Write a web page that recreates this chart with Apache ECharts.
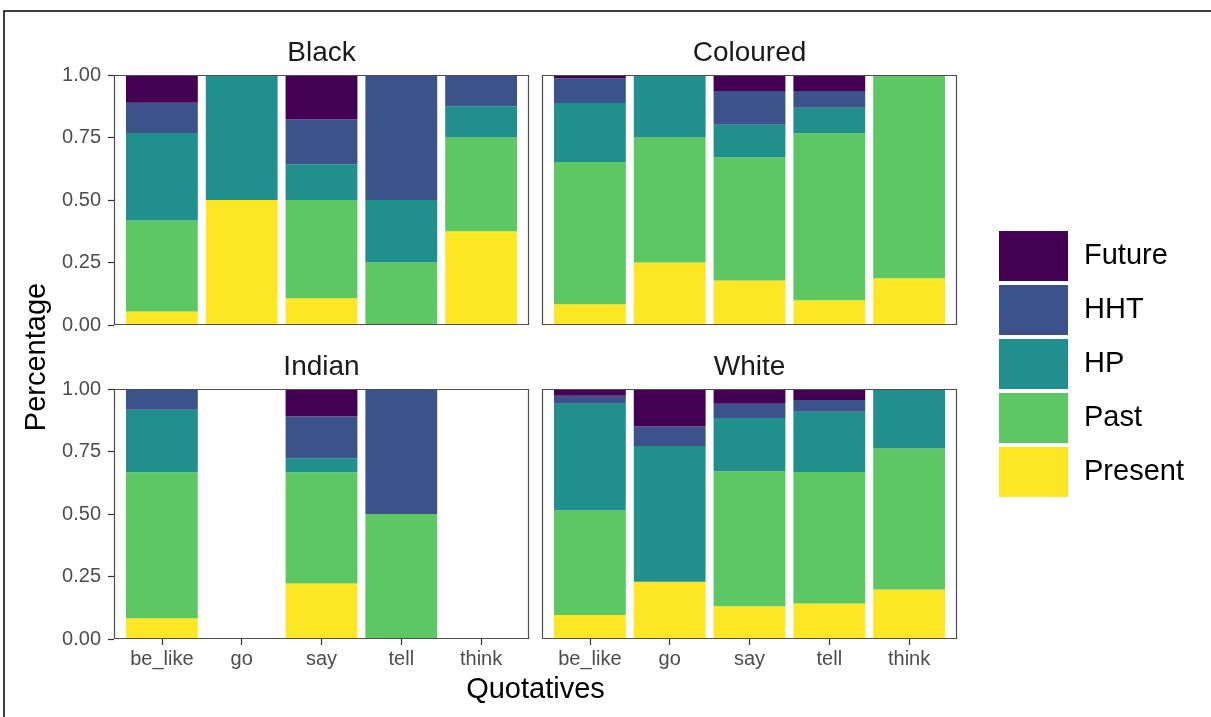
<!DOCTYPE html>
<html>
<head>
<meta charset="utf-8">
<script src="https://cdn.jsdelivr.net/npm/echarts@6/dist/echarts.min.js"></script>
<style>
  html, body { margin: 0; padding: 0; background: #fff; }
  #chart { width: 1211px; height: 717px; }
</style>
</head>
<body>
<div id="chart"></div>
<script>
// Quotative tense proportions by speaker group
const quotatives = ['be_like', 'go', 'say', 'tell', 'think'];
const tenses = ['Present', 'Past', 'HP', 'HHT', 'Future'];   // stacking order, bottom to top
const legendOrder = ['Future', 'HHT', 'HP', 'Past', 'Present'];
const groups = ['Black', 'Coloured', 'Indian', 'White'];

// rows follow `tenses`, columns follow `quotatives`
const black = [
  [0.054, 0.50, 0.107, 0.00, 0.375],  // Present
  [0.364, 0.00, 0.393, 0.25, 0.375],  // Past
  [0.350, 0.50, 0.143, 0.25, 0.125],  // HP
  [0.121, 0.00, 0.179, 0.50, 0.125],  // HHT
  [0.111, 0.00, 0.178, 0.00, 0.000]   // Future
];
const coloured = [
  [0.083, 0.25, 0.178, 0.099, 0.1875],
  [0.569, 0.50, 0.493, 0.668, 0.8125],
  [0.236, 0.25, 0.130, 0.102, 0.000],
  [0.099, 0.00, 0.135, 0.067, 0.000],
  [0.013, 0.00, 0.064, 0.064, 0.000]
];
const indian = [
  [0.083, null, 0.222, 0.00, null],
  [0.584, null, 0.445, 0.50, null],
  [0.250, null, 0.056, 0.00, null],
  [0.083, null, 0.167, 0.50, null],
  [0.000, null, 0.110, 0.00, null]
];
const white = [
  [0.096, 0.229, 0.131, 0.142, 0.198],
  [0.419, 0.000, 0.540, 0.526, 0.564],
  [0.426, 0.543, 0.213, 0.241, 0.238],
  [0.032, 0.078, 0.057, 0.047, 0.000],
  [0.027, 0.150, 0.059, 0.044, 0.000]
];
const groupData = [black, coloured, indian, white];

const colors = { Future: '#440154', HHT: '#3B528B', HP: '#21908C', Past: '#5DC863', Present: '#FDE725' };

// facet layout (2 x 2)
const panelLefts = [114, 542];
const panelTops = [75, 389];
const panelW = 415;
const panelH = 250;
// discrete axis padding: 0.6 of a category on each side
const unit = panelW / (quotatives.length + 0.2);
const inset = 0.1 * unit;
const FONT = 'Liberation Sans, Arial, Helvetica, sans-serif';

const grids = [], xAxes = [], yAxes = [], series = [], graphics = [];

groups.forEach((g, gi) => {
  const col = gi % 2, row = Math.floor(gi / 2);
  const left = panelLefts[col], top = panelTops[row];
  grids.push({ left: left + inset, top: top, width: panelW - 2 * inset, height: panelH });
  const bottomRow = row === 1, leftCol = col === 0;
  xAxes.push({
    gridIndex: gi, type: 'category', data: quotatives, boundaryGap: true,
    axisLine: { show: false },
    splitLine: { show: false },
    axisTick: { show: bottomRow, length: 6, alignWithLabel: true,
                lineStyle: { color: '#333', width: 1.2 } },
    axisLabel: { show: bottomRow, margin: 10, interval: 0,
                 color: '#4d4d4d', fontSize: 20, fontFamily: FONT }
  });
  yAxes.push({
    gridIndex: gi, type: 'value', min: 0, max: 1, interval: 0.25, offset: inset,
    axisLine: { show: false },
    splitLine: { show: false },
    axisTick: { show: leftCol, length: 6, lineStyle: { color: '#333', width: 1.2 } },
    axisLabel: { show: leftCol, margin: 13, color: '#4d4d4d', fontSize: 20, fontFamily: FONT,
                 formatter: v => v.toFixed(2) }
  });
  const rows = groupData[gi];
  tenses.forEach((t, ti) => {
    series.push({
      name: t, type: 'bar', stack: 'g' + gi,
      xAxisIndex: gi, yAxisIndex: gi,
      barWidth: '90%',
      itemStyle: { color: colors[t] },
      data: rows[ti]
    });
  });
  // panel border
  graphics.push({
    type: 'rect', silent: true, z: 10,
    shape: { x: left + 0.5, y: top + 0.5, width: panelW - 1, height: panelH - 1 },
    style: { fill: 'none', stroke: '#4d4d4d', lineWidth: 1.2 }
  });
  // strip title
  graphics.push({
    type: 'text', x: left + panelW / 2, y: top - 22,
    style: { text: g, fill: '#1a1a1a', font: '28px ' + FONT, textAlign: 'center', textVerticalAlign: 'middle' }
  });
});

// axis titles
graphics.push({
  type: 'text', x: (panelLefts[0] + panelLefts[1] + panelW) / 2, y: 690,
  style: { text: 'Quotatives', fill: '#000', font: '29px ' + FONT, textAlign: 'center', textVerticalAlign: 'middle' }
});
graphics.push({
  type: 'text', x: 37, y: (panelTops[0] + panelTops[1] + panelH) / 2, rotation: Math.PI / 2,
  style: { text: 'Percentage', fill: '#000', font: '29px ' + FONT, textAlign: 'center', textVerticalAlign: 'middle' }
});
// figure frame
graphics.push({
  type: 'rect', shape: { x: 4, y: 11, width: 1400, height: 900 },
  style: { fill: 'none', stroke: '#000', lineWidth: 1.5 }, silent: true
});

const chart = echarts.init(document.getElementById('chart'), null, { renderer: 'canvas' });
chart.setOption({
  animation: false,
  backgroundColor: '#fff',
  grid: grids,
  xAxis: xAxes,
  yAxis: yAxes,
  legend: {
    data: legendOrder, orient: 'vertical', left: 999, top: 231, padding: 0,
    icon: 'rect', itemWidth: 69, itemHeight: 50, itemGap: 4,
    textStyle: { fontSize: 29, fontFamily: FONT, color: '#000', padding: [0, 0, 0, 11] },
    selectedMode: false
  },
  series: series,
  graphic: graphics
});
</script>
</body>
</html>
